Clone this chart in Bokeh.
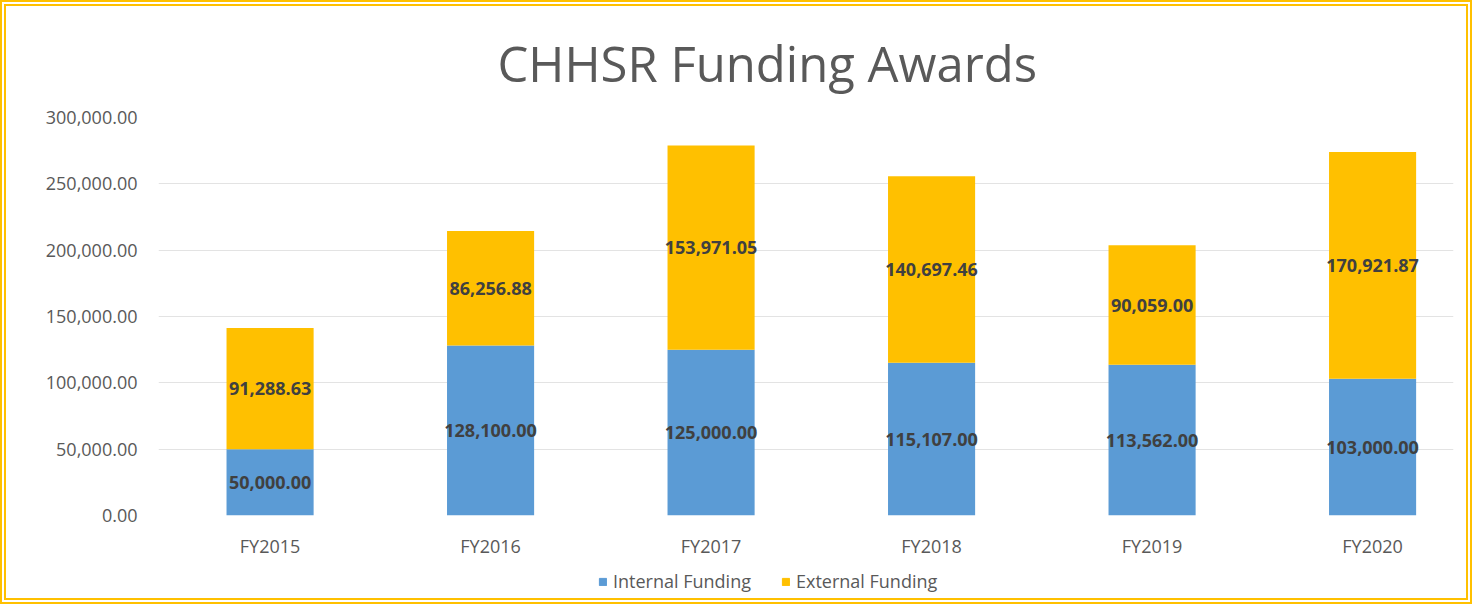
from bokeh.plotting import figure
from bokeh.models import (ColumnDataSource, Range1d, FixedTicker, NumeralTickFormatter,
                          Legend, LegendItem, Column)
from bokeh.core.properties import value
from bokeh.embed import file_html
from bokeh.resources import INLINE

categories = ["FY2015", "FY2016", "FY2017", "FY2018", "FY2019", "FY2020"]
internal_funding = [50000.00, 128100.00, 125000.00, 115107.00, 113562.00, 103000.00]
external_funding = [91288.63, 86256.88, 153971.05, 140697.46, 90059.00, 170921.87]
series_names = ["Internal Funding", "External Funding"]
y_ticks = [0, 50000, 100000, 150000, 200000, 250000, 300000]

BLUE = "#5B9BD5"
GOLD = "#FFC000"
GRAY = "#595959"
FONT = "Open Sans"
W = 1460

xs = list(range(len(categories)))
source = ColumnDataSource(dict(
    x=xs, cat=categories,
    internal=internal_funding, external=external_funding,
))

p = figure(width=W, height=562, output_backend="svg", toolbar_location=None,
           x_range=Range1d(-0.506, 5.367), y_range=Range1d(0, 300000),
           min_border_left=152, min_border_right=13, min_border_top=110, min_border_bottom=53)

renderers = p.vbar_stack(["internal", "external"], x="x", width=0.395, color=[BLUE, GOLD],
                         line_color=None, source=source)

# data labels
lab_x, lab_y, lab_t = [], [], []
for i, (a, b) in enumerate(zip(internal_funding, external_funding)):
    lab_x += [i, i]
    lab_y += [a / 2, a + b / 2]
    lab_t += [f"{a:,.2f}", f"{b:,.2f}"]
lsrc = ColumnDataSource(dict(x=lab_x, y=lab_y, t=lab_t))
p.text(x="x", y="y", text="t", source=lsrc, text_align="center", text_baseline="middle",
       text_font=value(FONT), text_font_size="18px", text_color="#404040", text_font_style="bold")

p.title.text = "CHHSR Funding Awards"
p.title.align = "left"
p.title.text_font = FONT
p.title.text_font_size = "49px"
p.title.text_font_style = "normal"
p.title.text_color = GRAY
p.title.standoff = 43
p.title.offset = 339

p.xaxis.ticker = FixedTicker(ticks=xs)
p.xaxis.major_label_overrides = {i: c for i, c in enumerate(categories)}
p.yaxis.ticker = FixedTicker(ticks=y_ticks)
p.yaxis.formatter = NumeralTickFormatter(format="0,0.00")
for ax in (p.xaxis, p.yaxis):
    ax.axis_line_color = None
    ax.major_tick_line_color = None
    ax.minor_tick_line_color = None
    ax.major_label_text_font = FONT
    ax.major_label_text_font_size = "18px"
    ax.major_label_text_color = GRAY
p.yaxis.major_label_standoff = 15
p.xaxis.major_label_standoff = 12

p.xgrid.grid_line_color = None
p.ygrid.grid_line_color = "#E3E3E3"
p.ygrid.grid_line_width = 1
p.outline_line_color = None

# legend strip below the chart (its frame is aligned with the main frame)
lf = figure(width=W, height=30, output_backend="svg", toolbar_location=None,
            x_axis_location=None, y_axis_location=None, min_border=0,
            x_range=Range1d(0, 1), y_range=Range1d(0, 1))
lf.grid.grid_line_color = None
lf.outline_line_color = None
proxy = ColumnDataSource(dict(x=[-10], top=[-10]))  # off-range proxies, legend swatches only
r1 = lf.vbar(x="x", top="top", width=0.1, color=BLUE, source=proxy)
r2 = lf.vbar(x="x", top="top", width=0.1, color=GOLD, source=proxy)
legend = Legend(items=[LegendItem(label=series_names[0], renderers=[r1]),
                       LegendItem(label=series_names[1], renderers=[r2])],
                orientation="horizontal", location=(440, 5),
                label_text_font=FONT, label_text_font_size="18px", label_text_color=GRAY,
                glyph_width=9, glyph_height=9, label_standoff=6, spacing=30,
                border_line_color=None, background_fill_alpha=0, padding=0, margin=0)
lf.add_layout(legend)

layout = Column(p, lf, styles={"border": "6px double #FFC000"})

open("out.html", "w").write(file_html(layout, INLINE))
